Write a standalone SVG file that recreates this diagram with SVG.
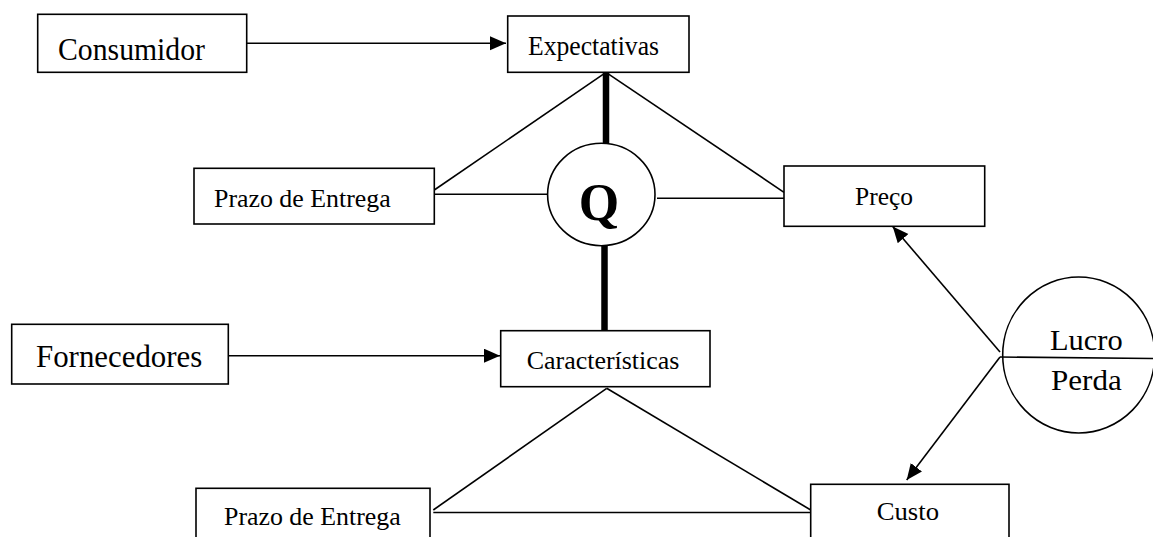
<svg xmlns="http://www.w3.org/2000/svg" width="1153" height="537" viewBox="0 0 1153 537">
<style>
.box{fill:#fff;stroke:#000;stroke-width:1.6}
.ln{fill:none;stroke:#000;stroke-width:1.6}
.thick{fill:none;stroke:#000;stroke-width:6.5;stroke-linecap:round}
.t{font-family:"Liberation Serif","Times New Roman",serif;fill:#000}
</style>
<defs>
<marker id="ah" markerUnits="userSpaceOnUse" markerWidth="17" markerHeight="15" refX="16" refY="7" orient="auto">
<path d="M0,0 L16,7 L0,14 z" fill="#000"/>
</marker>
</defs>
<rect width="1153" height="537" fill="#fff"/>
<g id="connectors">
<line class="ln" x1="246.7" y1="43.3" x2="506" y2="43.3" marker-end="url(#ah)"/>
<line class="ln" x1="228.3" y1="355.7" x2="500" y2="355.7" marker-end="url(#ah)"/>
<line class="thick" x1="606" y1="72.5" x2="606" y2="143"/>
<line class="thick" x1="604.5" y1="246" x2="604.5" y2="330"/>
<line class="ln" x1="606" y1="72.3" x2="434.3" y2="190"/>
<line class="ln" x1="606" y1="72.3" x2="784" y2="192.3"/>
<line class="ln" x1="434.3" y1="194.3" x2="547.7" y2="194.3"/>
<line class="ln" x1="657" y1="198.3" x2="784" y2="198.3"/>
<line class="ln" x1="606.7" y1="388.3" x2="433.3" y2="510"/>
<line class="ln" x1="606.7" y1="388.3" x2="810.7" y2="510"/>
<line class="ln" x1="433.3" y1="512.5" x2="810.7" y2="512.5"/>
<line class="ln" x1="1000" y1="352" x2="892.7" y2="226.5" marker-end="url(#ah)"/>
<line class="ln" x1="1000" y1="357" x2="906.7" y2="480" marker-end="url(#ah)" stroke-width="2"/>
</g>
<g id="consumidor">
<rect class="box" x="37.7" y="14.3" width="209" height="58"/>
<text class="t" x="58" y="60" font-size="32" textLength="147" lengthAdjust="spacingAndGlyphs">Consumidor</text>
</g>
<g id="expectativas">
<rect class="box" x="507.7" y="16" width="181.3" height="56.3"/>
<text class="t" x="528" y="55" font-size="27" textLength="131" lengthAdjust="spacingAndGlyphs">Expectativas</text>
</g>
<g id="prazo1">
<rect class="box" x="194" y="168.3" width="240.3" height="55.7"/>
<text class="t" x="214" y="206.7" font-size="26" textLength="176.7" lengthAdjust="spacingAndGlyphs">Prazo de Entrega</text>
</g>
<g id="q">
<ellipse class="box" cx="601.3" cy="194.5" rx="53.7" ry="51.2"/>
<text class="t" x="599" y="220" font-size="52" font-weight="bold" text-anchor="middle">Q</text>
</g>
<g id="preco">
<rect class="box" x="784" y="166" width="200.7" height="60.3"/>
<text class="t" x="855" y="205" font-size="26" textLength="58" lengthAdjust="spacingAndGlyphs">Preço</text>
</g>
<g id="fornecedores">
<rect class="box" x="11.7" y="324.3" width="216.6" height="59.7"/>
<text class="t" x="36" y="366.7" font-size="32" textLength="166.3" lengthAdjust="spacingAndGlyphs">Fornecedores</text>
</g>
<g id="caracteristicas">
<rect class="box" x="500.7" y="330.7" width="209.3" height="56"/>
<text class="t" x="526.7" y="369" font-size="26" textLength="152.7" lengthAdjust="spacingAndGlyphs">Características</text>
</g>
<g id="lucro-perda">
<ellipse class="box" cx="1078.7" cy="355" rx="76" ry="78"/>
<line class="ln" x1="1000" y1="357" x2="1153" y2="358.5"/>
<text class="t" x="1050" y="350" font-size="30" textLength="72.7" lengthAdjust="spacingAndGlyphs">Lucro</text>
<text class="t" x="1051" y="390" font-size="30" textLength="70.7" lengthAdjust="spacingAndGlyphs">Perda</text>
</g>
<g id="prazo2">
<rect class="box" x="196" y="488.3" width="234" height="60"/>
<text class="t" x="224" y="525" font-size="26" textLength="176.7" lengthAdjust="spacingAndGlyphs">Prazo de Entrega</text>
</g>
<g id="custo">
<rect class="box" x="810.7" y="484.3" width="198.3" height="60"/>
<text class="t" x="876.7" y="520" font-size="26" textLength="62.3" lengthAdjust="spacingAndGlyphs">Custo</text>
</g>
</svg>
